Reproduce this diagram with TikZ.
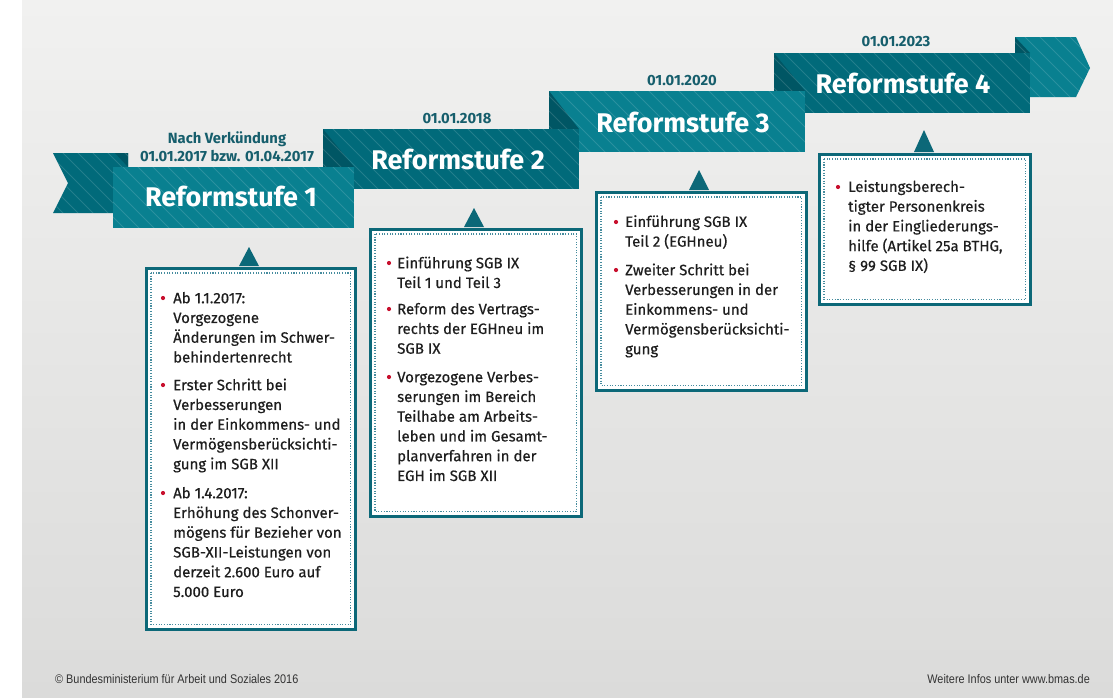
\documentclass[tikz,border=0pt]{standalone}
\usepackage{fontspec}
\setmainfont{Fira Sans}
\newfontfamily\bodyfont[FakeBold=0.4]{Fira Sans}
\newfontfamily\footfont[FakeStretch=0.87]{Liberation Sans}
\usetikzlibrary{calc}
\definecolor{tealL}{RGB}{9,128,144}
\definecolor{tealD}{RGB}{1,106,122}
\definecolor{tealF}{RGB}{0,86,100}
\definecolor{boxline}{RGB}{12,104,120}
\definecolor{dotc}{RGB}{70,140,158}
\definecolor{datec}{RGB}{22,94,108}
\definecolor{bulletred}{RGB}{200,16,46}
\definecolor{txt}{RGB}{30,30,30}
\definecolor{bgtop}{RGB}{241,241,240}
\definecolor{bgbot}{RGB}{219,219,218}
\newcommand\ribbonpiece[3]{%
  \fill[#1] #2;
  \begin{scope}
    \clip #2;
    \foreach \k in {-300,-285,...,300}
      \draw[white,opacity=.14,line width=.9pt] ([shift={(\k,-100)}]#3) -- ++(400,400);
  \end{scope}}
\tikzset{
  title/.style={text=white,font=\fontsize{27}{30}\selectfont\bfseries,inner sep=0pt},
  datelbl/.style={text=datec,font=\fontsize{14.8}{18}\selectfont\bfseries,align=center,inner sep=0pt},
  infobox/.style={draw=boxline,line width=2.5pt,fill=white,inner sep=0pt,anchor=north west},
  innerdots/.style={draw=dotc,line width=1.1pt,dash pattern=on 1.1pt off 1.6pt},
  pointer/.style={fill=boxline},
  itemtext/.style={text=txt,font=\bodyfont\fontsize{15}{19.75}\selectfont,align=left,inner sep=0pt,anchor=north west},
  bullet/.style={fill=bulletred},
  footer/.style={text=black!80,font=\footfont\fontsize{12.5}{14}\selectfont,inner sep=0pt}
}
\begin{document}
\begin{tikzpicture}[x=1pt,y=-1pt]
\useasboundingbox (0,0) rectangle (1113,697);
\fill[white] (0,0) rectangle (1113,697);
\shade[top color=bgtop,bottom color=bgbot] (22,0) rectangle (1113,697);

% ---- ribbon (back to front) ----
\ribbonpiece{tealL}{(1015,37)--(1076,37)--(1090,68)--(1076,97)--(1015,97)--cycle}{1015,37}
\ribbonpiece{tealF}{(1015,37)--(1030,53)--(1015,53)--cycle}{1015,37}
\ribbonpiece{tealD}{(774,53)--(1030,53)--(1030,113)--(774,113)--cycle}{774,53}
\ribbonpiece{tealF}{(774,53)--(805,91)--(774,91)--cycle}{774,53}
\ribbonpiece{tealL}{(549,91)--(805,91)--(805,152)--(549,152)--cycle}{549,91}
\ribbonpiece{tealF}{(549,91)--(579,129)--(549,129)--cycle}{549,91}
\ribbonpiece{tealD}{(323,129)--(579,129)--(579,189)--(323,189)--cycle}{323,129}
\ribbonpiece{tealF}{(323,129)--(354,167)--(323,167)--cycle}{323,129}
\ribbonpiece{tealD}{(53,153)--(128,153)--(128,213)--(53,213)--(68,183)--cycle}{53,153}
\ribbonpiece{tealF}{(115,153)--(128,153)--(128,167)--cycle}{115,153}
\ribbonpiece{tealL}{(113,167)--(354,167)--(354,228)--(113,228)--cycle}{113,167}

% ---- titles and dates ----
\node[title] (t1) at (231,196) {Reformstufe 1};
\node[title] (t2) at (458,159) {Reformstufe 2};
\node[title] (t3) at (683,122) {Reformstufe 3};
\node[title] (t4) at (903,83) {Reformstufe 4};
\node[datelbl] (d1) at (227,147) {Nach Verkündung\\01.01.2017 bzw. 01.04.2017};
\node[datelbl] (d2) at (457,119) {01.01.2018};
\node[datelbl] (d3) at (682,81) {01.01.2020};
\node[datelbl] (d4) at (896,42) {01.01.2023};

% ---- boxes ----
\node[infobox,minimum width=209pt,minimum height=361pt] (b1) at (145,267) {};
\node[infobox,minimum width=211pt,minimum height=287pt] (b2) at (369,228) {};
\node[infobox,minimum width=210pt,minimum height=198pt] (b3) at (595,191) {};
\node[infobox,minimum width=211pt,minimum height=150pt] (b4) at (818,153) {};
\foreach \b in {b1,b2,b3,b4}
  \draw[innerdots] ($(\b.north west)+(6,6)$) rectangle ($(\b.south east)+(-6,-6)$);
\fill[pointer] (239,266) -- (249,247) -- (259,266) -- cycle;
\fill[pointer] (464,227) -- (474,208) -- (484,227) -- cycle;
\fill[pointer] (689,190) -- (699,170) -- (709,190) -- cycle;
\fill[pointer] (914,152) -- (924,130) -- (934,152) -- cycle;

% ---- box 1 ----
\fill[bullet] (163,298) circle (2.1pt);
\fill[bullet] (163,385) circle (2.1pt);
\fill[bullet] (163,493) circle (2.1pt);
\node[itemtext] (b1i1) at (173,289.2) {\strut Ab 1.1.2017:\\Vorgezogene\\Änderungen im Schwer-\\behindertenrecht};
\node[itemtext] (b1i2) at (173,376.2) {\strut Erster Schritt bei\\Verbesserungen\\in der Einkommens- und\\Vermögensberücksichti-\\gung im SGB XII};
\node[itemtext] (b1i3) at (173,484.2) {\strut Ab 1.4.2017:\\Erhöhung des Schonver-\\mögens für Bezieher von\\SGB-XII-Leistungen von\\derzeit 2.600 Euro auf\\5.000 Euro};

% ---- box 2 ----
\fill[bullet] (389,263) circle (2.1pt);
\fill[bullet] (389,309) circle (2.1pt);
\fill[bullet] (389,377) circle (2.1pt);
\node[itemtext] (b2i1) at (397,254.2) {\strut Einführung SGB IX\\Teil 1 und Teil 3};
\node[itemtext] (b2i2) at (397,300.2) {\strut Reform des Vertrags-\\rechts der EGHneu im\\SGB IX};
\node[itemtext] (b2i3) at (397,368.2) {\strut Vorgezogene Verbes-\\serungen im Bereich\\Teilhabe am Arbeits-\\leben und im Gesamt-\\planverfahren in der\\EGH im SGB XII};

% ---- box 3 ----
\fill[bullet] (616,222) circle (2.1pt);
\fill[bullet] (616,270) circle (2.1pt);
\node[itemtext] (b3i1) at (625,212.9) {\strut Einführung SGB IX\\Teil 2 (EGHneu)};
\node[itemtext] (b3i2) at (625,261.2) {\strut Zweiter Schritt bei\\Verbesserungen in der\\Einkommens- und\\Vermögensberücksichti-\\gung};

% ---- box 4 ----
\fill[bullet] (838,187) circle (2.1pt);
\node[itemtext] (b4i1) at (848,177.9) {\strut Leistungsberech-\\tigter Personenkreis\\in der Eingliederungs-\\hilfe (Artikel 25a BTHG,\\§ 99 SGB IX)};

% ---- footer ----
\node[footer,anchor=west] (f1) at (55,679) {© Bundesministerium für Arbeit und Soziales 2016};
\node[footer,anchor=east] (f2) at (1090,679) {Weitere Infos unter www.bmas.de};
\end{tikzpicture}
\end{document}
